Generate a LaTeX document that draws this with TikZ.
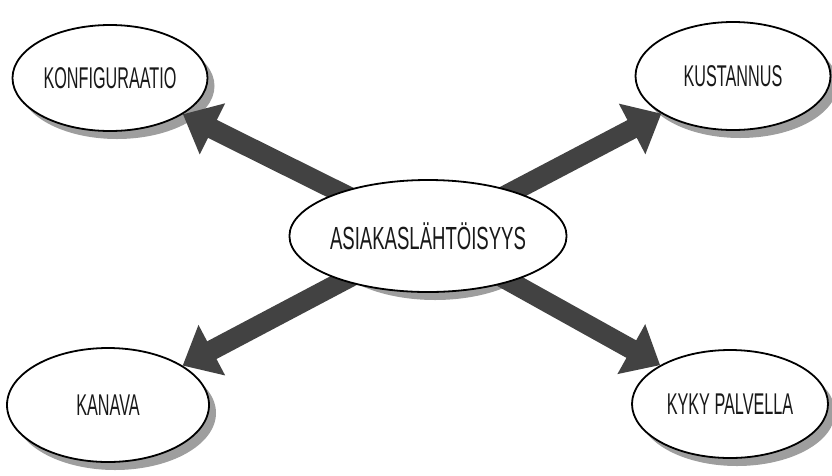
\documentclass[tikz,border=0pt]{standalone}
\usepackage{fontspec}
\newfontfamily\condfont[FakeStretch=0.54]{Liberation Sans}
\newfontfamily\condfontc[FakeStretch=0.58]{Liberation Sans}
\usetikzlibrary{shapes.geometric,arrows.meta}
\definecolor{arrowgray}{HTML}{424242}
\definecolor{shadowgray}{HTML}{9E9E9E}
\pgfdeclarelayer{shadowlayer}
\pgfdeclarelayer{arrowlayer}
\pgfsetlayers{shadowlayer,arrowlayer,main}
\begin{document}
\begin{tikzpicture}[x=1pt,y=-1pt,
  bubble/.style={ellipse, draw=black, line width=1.8pt, fill=white, inner sep=0pt,
    font=\condfont\fontsize{30}{30}\selectfont, text=black!90},
  centerbubble/.style={bubble, font=\condfontc\fontsize{32}{32}\selectfont},
  link/.style={draw=arrowgray, line width=20pt, -{Triangle[length=33pt,width=55pt]}},
  shadowfill/.style={fill=shadowgray}
]
\useasboundingbox (0,0) rectangle (832,475);
\node[bubble, minimum width=195pt, minimum height=106pt] (k) at (110,78) {KONFIGURAATIO};
\node[bubble, minimum width=195pt, minimum height=108pt] (u) at (733,76) {KUSTANNUS};
\node[centerbubble, minimum width=222pt, minimum height=112pt] (c) at (428,236) {ASIAKASLÄHTÖISYYS};
\node[bubble, minimum width=202pt, minimum height=114pt] (a) at (108,405) {KANAVA};
\node[bubble, minimum width=196pt, minimum height=108pt] (p) at (730,404) {KYKY PALVELLA};
\begin{pgfonlayer}{shadowlayer}
  \fill[shadowfill] (117,86) ellipse [x radius=97.5pt, y radius=53pt];
  \fill[shadowfill] (740,84) ellipse [x radius=97.5pt, y radius=54pt];
  \fill[shadowfill] (435,244) ellipse [x radius=111pt, y radius=56pt];
  \fill[shadowfill] (115,413) ellipse [x radius=101pt, y radius=57pt];
  \fill[shadowfill] (737,412) ellipse [x radius=98pt, y radius=54pt];
\end{pgfonlayer}
\begin{pgfonlayer}{arrowlayer}
  \draw[link] (c.center) -- (k);
  \draw[link] (c.center) -- (u);
  \draw[link] (c.center) -- (a);
  \draw[link] (c.center) -- (p);
\end{pgfonlayer}
\end{tikzpicture}
\end{document}
